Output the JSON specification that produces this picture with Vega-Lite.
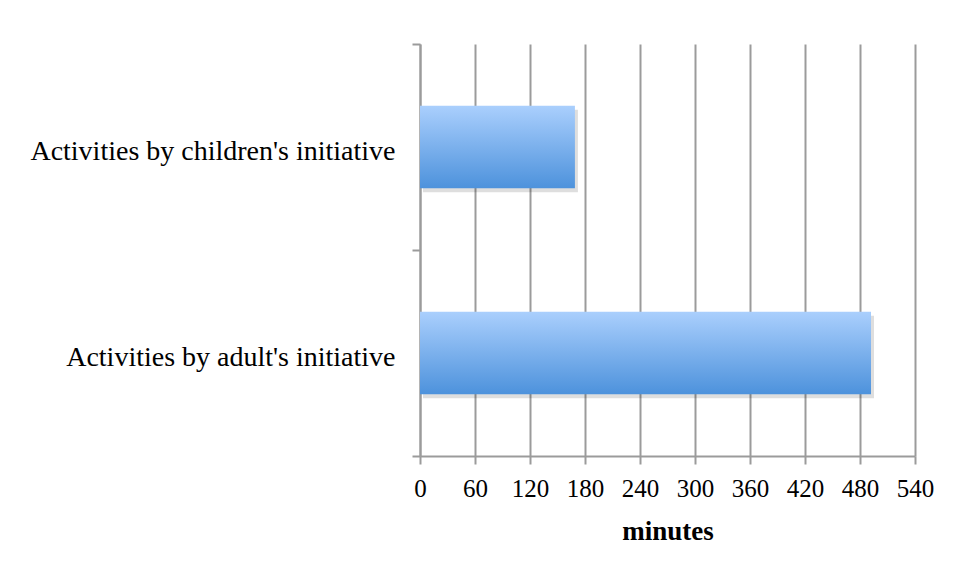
{
  "$schema": "https://vega.github.io/schema/vega-lite/v6.json",
  "autosize": {"type": "none"},
  "width": 495,
  "height": 412,
  "padding": {"left": 420, "top": 44, "right": 43, "bottom": 125},
  "background": "white",
  "data": {
    "values": [
      {"activity": "Activities by children's initiative", "minutes": 169},
      {"activity": "Activities by adult's initiative", "minutes": 492}
    ]
  },
  "encoding": {
    "y": {
      "field": "activity",
      "type": "nominal",
      "sort": null,
      "scale": {"paddingInner": 0, "paddingOuter": 0},
      "axis": {
        "title": null,
        "tickBand": "extent",
        "labelFont": "Liberation Serif",
        "labelFontSize": 28,
        "labelColor": "#000000",
        "labelPadding": 17,
        "tickSize": 8,
        "tickColor": "#9b9b9b",
        "tickWidth": 2,
        "domainColor": "#9b9b9b",
        "domainWidth": 2,
        "labelLimit": 500,
        "labelBaseline": "middle",
        "labelOffset": 4,
        "grid": false
      }
    },
    "x": {
      "field": "minutes",
      "type": "quantitative",
      "scale": {"domain": [0, 540], "nice": false},
      "axis": {
        "title": "minutes",
        "values": [0, 60, 120, 180, 240, 300, 360, 420, 480, 540],
        "labelOverlap": false,
        "labelFlush": false,
        "labelFont": "Liberation Serif",
        "labelFontSize": 25,
        "labelColor": "#000000",
        "labelPadding": 12,
        "titleFont": "Liberation Serif",
        "titleFontSize": 27,
        "titleFontWeight": "bold",
        "titleColor": "#000000",
        "titlePadding": 17,
        "tickSize": 8,
        "tickColor": "#9b9b9b",
        "tickWidth": 2,
        "domainColor": "#9b9b9b",
        "domainWidth": 2,
        "grid": true,
        "gridColor": "#9b9b9b",
        "gridWidth": 2,
        "gridOpacity": 1
      }
    }
  },
  "layer": [
    {
      "mark": {"type": "bar", "color": "#000000", "opacity": 0.13, "xOffset": 3, "yOffset": 4, "height": {"band": 0.4}}
    },
    {
      "mark": {
        "type": "bar",
        "height": {"band": 0.4},
        "color": {
          "gradient": "linear",
          "x1": 0, "y1": 0, "x2": 0, "y2": 1,
          "stops": [
            {"offset": 0, "color": "#aacffd"},
            {"offset": 1, "color": "#4d92dc"}
          ]
        }
      }
    }
  ],
  "config": {"view": {"stroke": null}}
}
